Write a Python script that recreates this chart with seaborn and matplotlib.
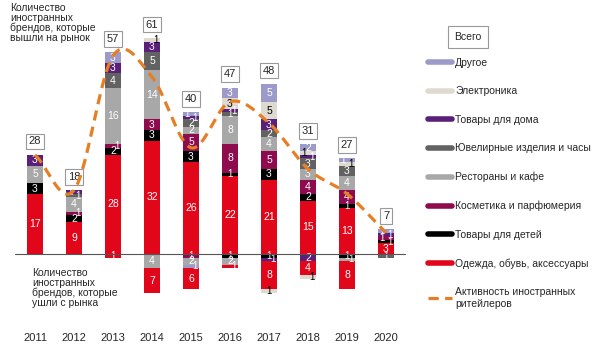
import numpy as np
import matplotlib
matplotlib.use("Agg")
import matplotlib.pyplot as plt
from matplotlib.lines import Line2D
import seaborn as sns

sns.set_theme(style="white")
plt.rcParams["font.family"] = ["Liberation Sans", "DejaVu Sans"]

years = [str(y) for y in range(2011, 2021)]
cats = ["Одежда, обувь, аксессуары", "Товары для детей", "Косметика и парфюмерия",
        "Рестораны и кафе", "Ювелирные изделия и часы", "Товары для дома",
        "Электроника", "Другое"]
colors = ["#E2061B", "#000000", "#8E0C4E", "#A8A8A8", "#626262", "#5A1F78",
          "#DEDAD0", "#9C9AC9"]
txt_col = ["white", "white", "white", "white", "white", "white", "black", "white"]

# вышли на рынок
clothes_in = [17, 9, 28, 32, 26, 22, 21, 15, 13, 3]
kids_in = [3, 2, 2, 3, 3, 1, 3, 2, 1, 1]
cosm_in = [0, 1, 1, 3, 5, 8, 5, 4, 4, 1]
rest_in = [5, 4, 16, 14, 2, 8, 4, 3, 4, 0]
jew_in = [0, 1, 4, 5, 2, 1, 2, 3, 3, 0]
home_in = [3, 1, 3, 3, 1, 1, 3, 1, 0, 1]
elec_in = [0, 0, 0, 1, 0, 3, 5, 1, 1, 0]
other_in = [0, 0, 3, 0, 1, 3, 5, 2, 1, 1]

# ушли с рынка
clothes_out = [0, 0, 1, 7, 6, 1, 8, 4, 8, 0]
kids_out = [0, 0, 0, 0, 0, 1, 1, 0, 1, 0]
cosm_out = [0, 0, 0, 0, 1, 0, 0, 0, 0, 0]
rest_out = [0, 0, 0, 4, 2, 2, 0, 0, 1, 0]
jew_out = [0, 0, 0, 0, 0, 0, 0, 0, 0, 1]
home_out = [0, 0, 0, 0, 0, 0, 1, 2, 0, 0]
elec_out = [0, 0, 0, 0, 0, 0, 1, 1, 0, 0]
other_out = [0, 0, 0, 0, 1, 0, 0, 0, 0, 0]

ins = [clothes_in, kids_in, cosm_in, rest_in, jew_in, home_in, elec_in, other_in]
outs = [clothes_out, kids_out, cosm_out, rest_out, jew_out, home_out, elec_out, other_out]
# порядок сверху вниз под осью
out_order = [1, 2, 3, 4, 5, 7, 0, 6]

fig = plt.figure(figsize=(6, 3.56), dpi=100)
ax = fig.add_axes([0, 31 / 356, 410 / 600, 325 / 356])

last_y = {}   # последняя подпись по столбцу, чтобы мелкие "1" не налезали
last_dx = {}

def draw_segment(vals, bottom, color, tc):
    sns.barplot(x=years, y=vals, bottom=bottom, color=color, width=0.4,
                errorbar=None, linewidth=0, saturation=1, ax=ax, order=years)
    for i, (v, b) in enumerate(zip(vals, bottom)):
        if v == 0:
            continue
        yc = b + v / 2
        dx = 0.0
        if abs(v) < 2 and i in last_y and abs(yc - last_y[i]) < 2.6:
            dx = 0.1 if last_dx.get(i, 0) <= 0 else -0.1
        last_y[i], last_dx[i] = yc, dx
        ax.text(i + dx, yc, str(abs(v)), ha="center", va="center",
                fontsize=7.5 if abs(v) > 1 else 7, color=tc)

bottom = np.zeros(len(years))
for k, vals in enumerate(ins):
    draw_segment(np.array(vals), bottom.copy(), colors[k], txt_col[k])
    bottom += np.array(vals)
total_in = bottom.copy()

last_y.clear(); last_dx.clear()
bottom = np.zeros(len(years))
for k in out_order:
    vals = -np.array(outs[k])
    draw_segment(vals, bottom.copy(), colors[k], txt_col[k])
    bottom += vals
total_out = -bottom

for i, t in enumerate(total_in):
    ax.text(i, t + 3.8, f"{int(t)}", ha="center", va="center", fontsize=8,
            bbox=dict(boxstyle="square,pad=0.25", fc="white", ec="#999999", lw=0.8))

# активность = вышли - ушли, сглаженная линия (как в Excel)
net = total_in - total_out
px = np.arange(len(net), dtype=float)
P = np.concatenate([[2 * net[0] - net[1]], net, [2 * net[-1] - net[-2]]])
xs, ys = [], []
for i in range(len(net) - 1):
    t = np.linspace(0, 1, 20)
    p0, p1, p2, p3 = P[i], P[i + 1], P[i + 2], P[i + 3]
    y = 0.5 * (2 * p1 + (-p0 + p2) * t + (2 * p0 - 5 * p1 + 4 * p2 - p3) * t ** 2
               + (-p0 + 3 * p1 - 3 * p2 + p3) * t ** 3)
    xs.extend(px[i] + t)
    ys.extend(y)
ax.plot(xs, ys, color="#E57E25", lw=2.3, linestyle=(0, (3.2, 2.0)), zorder=5)

ax.axhline(0, xmin=15 / 410, xmax=405 / 410, color="#555555", lw=0.8, zorder=4)

ax.set_xlim(-35 / 39, (410 - 35) / 39)
ax.set_ylim(-(325 - 254) / 3.54, 254 / 3.54)
ax.set_yticks([])
ax.set_xlabel("")
ax.set_ylabel("")
ax.tick_params(axis="x", length=0, pad=6, labelsize=8)
for s in ax.spines.values():
    s.set_visible(False)

fig.text(10 / 600, 1 - 3 / 356, "Количество\nиностранных\nбрендов, которые\nвышли на рынок",
         ha="left", va="top", fontsize=7.5, linespacing=1.0)
fig.text(32 / 600, 1 - 268 / 356, "Количество\nиностранных\nбрендов, которые\nушли с рынка",
         ha="left", va="top", fontsize=7.5, linespacing=1.0)
fig.text(468 / 600, 1 - 37 / 356, "Всего", ha="center", va="center", fontsize=7.5,
         bbox=dict(boxstyle="square,pad=0.6", fc="white", ec="#999999", lw=0.8))

handles = [Line2D([], [], color=colors[k], lw=4) for k in range(7, -1, -1)]
labels = [cats[k] for k in range(7, -1, -1)]
handles.append(Line2D([], [], color="#E57E25", lw=2.3, linestyle=(0, (3.2, 2.0))))
labels.append("Активность иностранных\nритейлеров")
fig.legend(handles, labels, loc="upper left", bbox_to_anchor=(428 / 600, 1 - 58 / 356),
           frameon=False, fontsize=7.5, handlelength=2.3, handletextpad=0.3,
           labelspacing=1.77, borderpad=0, borderaxespad=0)

fig.savefig("out.png", dpi=100)
